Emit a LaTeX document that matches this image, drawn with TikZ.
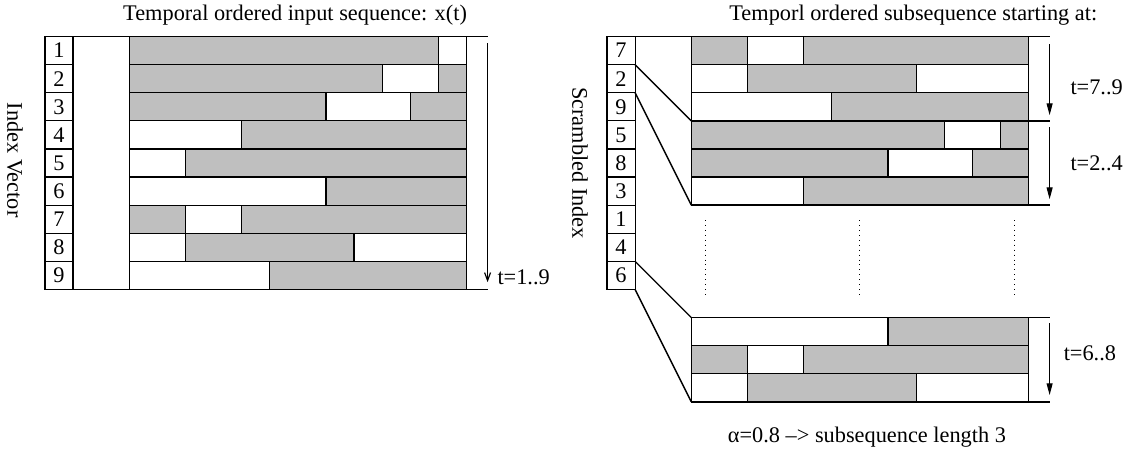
\documentclass[tikz,border=0pt]{standalone}
\usepackage{fontspec}
\setmainfont{Liberation Serif}
\usetikzlibrary{arrows.meta}
\colorlet{segfill}{black!25}
\tikzset{
  seg/.style={draw,line width=0.6pt},
  idx/.style={draw,line width=0.6pt,minimum width=0.5cm,minimum height=0.5cm,inner sep=0pt,outer sep=0pt},
  lbl/.style={inner sep=0pt},
  frame/.style={line width=0.8pt},
  zoomline/.style={line width=0.7pt},
  tleft/.style={line width=0.6pt,-{Straight Barb[length=4pt,width=3pt]}},
  tright/.style={line width=0.6pt,-{Triangle[length=6pt,width=3pt]}},
}
% one row of the sequence: #1 = top of row, #2 = from/to/colour
\newcommand{\seqrow}[2]{\foreach \xa/\xb/\col in {#2}{\draw[seg,fill=\col] (3+\xa,#1) rectangle (3+\xb,#1-1);}}
\begin{document}
\begin{tikzpicture}[x=0.5cm,y=0.5cm,every node/.style={font=\fontsize{11.3}{13}\selectfont}]
\useasboundingbox (0,0) rectangle (40.14,-16.26);
% input sequence
\begin{scope}[shift={(1.6,-1.3)}]
\node[lbl] (ltitle) at (8.9,0.77) {Temporal ordered input sequence: x(t)};
\node[lbl,rotate=-90] (lside) at (-1.07,-4.4) {Index Vector};
\foreach \n in {1,...,9} \node[idx] (lidx\n) at (0.5,0.5-\n) {\n};
\seqrow{0}{0/11/segfill,11/12/white}
\seqrow{-1}{0/9/segfill,9/11/white,11/12/segfill}
\seqrow{-2}{0/7/segfill,7/10/white,10/12/segfill}
\seqrow{-3}{0/4/white,4/12/segfill}
\seqrow{-4}{0/2/white,2/12/segfill}
\seqrow{-5}{0/7/white,7/12/segfill}
\seqrow{-6}{0/2/segfill,2/4/white,4/12/segfill}
\seqrow{-7}{0/2/white,2/8/segfill,8/12/white}
\seqrow{-8}{0/5/white,5/12/segfill}
\draw[frame] (1,0) -- (15.75,0) (1,-9) -- (15.75,-9) (15,0) -- (15,-9);
\draw[tleft] (15.75,-0.23) -- (15.75,-8.74);
\node[lbl,anchor=west] (lt) at (16.09,-8.56) {t=1..9};
\end{scope}
% subsequences
\begin{scope}[shift={(21.6,-1.3)}]
\node[lbl] (rtitle) at (10.9,0.77) {Temporl ordered subsequence starting at:};
\node[lbl,rotate=-90] (rside) at (-0.96,-4.5) {Scrambled Index};
\foreach \n [count=\i] in {7,2,9,5,8,3,1,4,6} \node[idx] (ridx\i) at (0.5,0.5-\i) {\n};
\coordinate (blk2) at (3,-3);
\coordinate (blk2b) at (3,-6);
\coordinate (blk3) at (3,-10);
\coordinate (blk3b) at (3,-13);
% start 7
\seqrow{0}{0/2/segfill,2/4/white,4/12/segfill}
\seqrow{-1}{0/2/white,2/8/segfill,8/12/white}
\seqrow{-2}{0/5/white,5/12/segfill}
% start 2
\seqrow{-3}{0/9/segfill,9/11/white,11/12/segfill}
\seqrow{-4}{0/7/segfill,7/10/white,10/12/segfill}
\seqrow{-5}{0/4/white,4/12/segfill}
% start 6
\seqrow{-10}{0/7/white,7/12/segfill}
\seqrow{-11}{0/2/segfill,2/4/white,4/12/segfill}
\seqrow{-12}{0/2/white,2/8/segfill,8/12/white}
\draw[frame] (1,0) -- (15.75,0) (3,-3) -- (15.75,-3) (3,-6) -- (15.75,-6)
  (3,-10) -- (15.75,-10) (3,-13) -- (15.75,-13)
  (15,0) -- (15,-6) (15,-10) -- (15,-13);
\foreach \x in {3.5,9,14.5} \draw[dotted,line width=0.5pt] (\x,-6.53) -- (\x,-9.22);
\draw[zoomline] (ridx2.north east) -- (blk2);
\draw[zoomline] (ridx2.south east) -- (blk2b);
\draw[zoomline] (ridx9.north east) -- (blk3);
\draw[zoomline] (ridx9.south east) -- (blk3b);
\draw[tright] (15.75,-0.27) -- (15.75,-2.8);
\draw[tright] (15.75,-3.23) -- (15.75,-5.79);
\draw[tright] (15.75,-10.2) -- (15.75,-12.76);
\node[lbl,anchor=west] (t1) at (16.48,-1.79) {t=7..9};
\node[lbl,anchor=west] (t2) at (16.48,-4.51) {t=2..4};
\node[lbl,anchor=west] (t3) at (16.24,-11.27) {t=6..8};
\node[lbl] (alpha) at (9.25,-14.24) {α=0.8 –> subsequence length 3};
\end{scope}
\end{tikzpicture}
\end{document}
